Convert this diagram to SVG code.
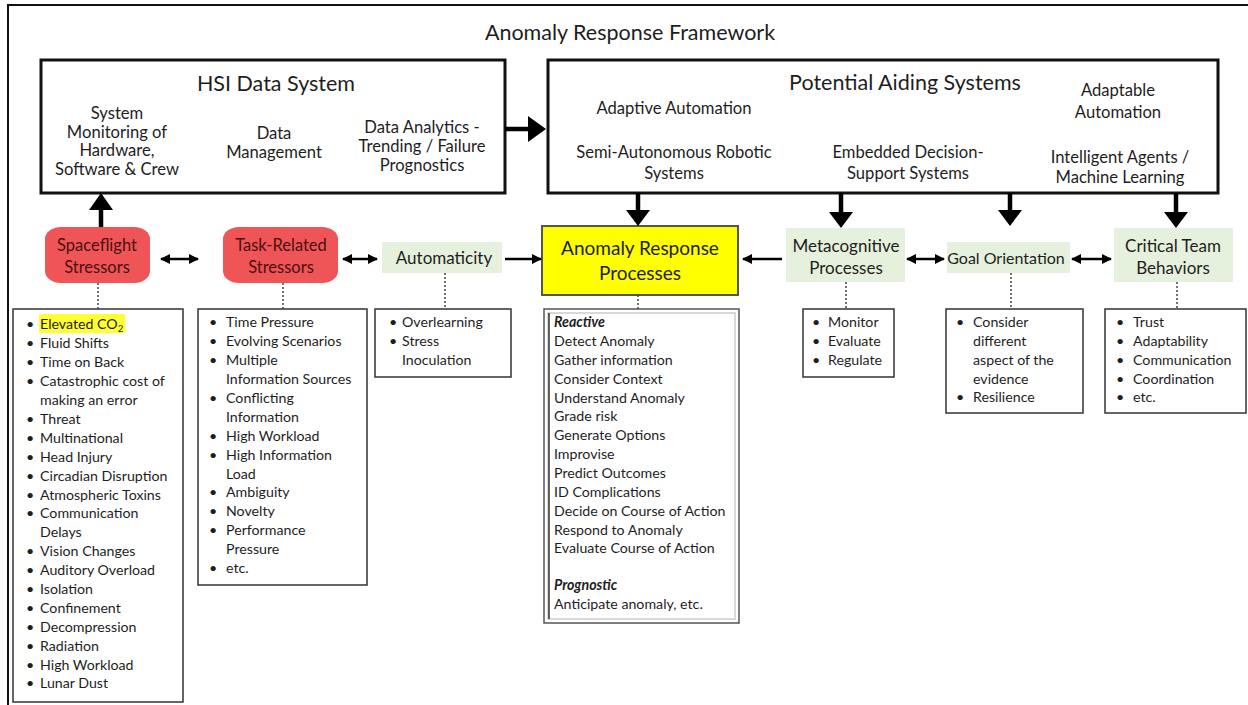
<svg xmlns="http://www.w3.org/2000/svg" width="1248" height="705" viewBox="0 0 1248 705">
<style>
text{font-family:Lato,"Open Sans","Liberation Sans",sans-serif;fill:#1e1e1e}
.t{font-size:16.6px;text-anchor:middle}
.n{font-size:17px;text-anchor:middle}
.ttl{font-size:21.5px;text-anchor:middle}
.li{font-size:14.2px}
.sysbox{fill:#fff;stroke:#111;stroke-width:3}
.red{fill:#ef5556}
.redt{fill:#4a1010;font-size:16.5px;text-anchor:middle}
.grn{fill:#e5f1dc}
.lst{fill:#fff;stroke:#333;stroke-width:1.5}
.dot{stroke:#444;stroke-width:1.5;stroke-dasharray:2 2;fill:none}
.thin{stroke:#000;stroke-width:2.5;fill:none}
.thick{stroke:#000;stroke-width:4.5;fill:none}
</style>
<defs>
<marker id="ah" viewBox="0 0 10 10" refX="9" refY="5" markerWidth="4" markerHeight="4" orient="auto-start-reverse" markerUnits="strokeWidth">
<path d="M0,0 L10,5 L0,10 z" fill="#000"/>
</marker>
</defs>
<rect width="1248" height="705" fill="#fff"/>
<rect x="8" y="5" width="1250" height="720" fill="none" stroke="#111" stroke-width="2"/>
<text x="630" y="40" class="ttl" style="font-size:21.5px">Anomaly Response Framework</text>

<g id="hsi">
<rect x="41" y="60" width="464" height="133" class="sysbox"/>
<text x="276" y="91" class="ttl">HSI Data System</text>
<text class="t" x="117" y="119">System</text>
<text class="t" x="117" y="138">Monitoring of</text>
<text class="t" x="117" y="156">Hardware,</text>
<text class="t" x="117" y="175">Software &amp; Crew</text>
<text class="t" x="274" y="139">Data</text>
<text class="t" x="274" y="158">Management</text>
<text class="t" x="422" y="133">Data Analytics -</text>
<text class="t" x="422" y="152">Trending / Failure</text>
<text class="t" x="422" y="171">Prognostics</text>
</g>

<g id="aiding">
<rect x="548" y="60" width="670" height="133" class="sysbox"/>
<text x="905" y="90" class="ttl">Potential Aiding Systems</text>
<text class="t" x="674" y="114">Adaptive Automation</text>
<text class="t" x="1118" y="96">Adaptable</text>
<text class="t" x="1118" y="118">Automation</text>
<text class="t" x="674" y="158">Semi-Autonomous Robotic</text>
<text class="t" x="674" y="179">Systems</text>
<text class="t" x="908" y="158">Embedded Decision-</text>
<text class="t" x="908" y="179">Support Systems</text>
<text class="t" x="1120" y="163">Intelligent Agents /</text>
<text class="t" x="1120" y="183">Machine Learning</text>
</g>

<g id="spaceflight">
<rect x="45" y="227" width="105" height="56" rx="16" ry="12" class="red"/>
<text class="redt" x="97" y="251">Spaceflight</text>
<text class="redt" x="97" y="273">Stressors</text>
</g>
<g id="taskrelated">
<rect x="223" y="227" width="115" height="56" rx="16" ry="12" class="red"/>
<text class="redt" x="281" y="251">Task-Related</text>
<text class="redt" x="281" y="273">Stressors</text>
</g>
<g id="automaticity">
<rect x="382" y="242" width="120" height="31" class="grn"/>
<text class="n" x="444" y="264">Automaticity</text>
</g>
<g id="arp">
<rect x="542" y="226" width="196" height="69" fill="#ffff00" stroke="#555" stroke-width="2"/>
<text class="n" x="640" y="255" style="font-size:19px">Anomaly Response</text>
<text class="n" x="640" y="280" style="font-size:19px">Processes</text>
</g>
<g id="metacognitive">
<rect x="786" y="228" width="119" height="54" class="grn"/>
<text class="n" x="846" y="252">Metacognitive</text>
<text class="n" x="846" y="274">Processes</text>
</g>
<g id="goal">
<rect x="947" y="242" width="123" height="31" class="grn"/>
<text class="n" x="1006" y="264" style="font-size:16px">Goal Orientation</text>
</g>
<g id="critical">
<rect x="1114" y="228" width="119" height="54" class="grn"/>
<text class="n" x="1173" y="252">Critical Team</text>
<text class="n" x="1173" y="274">Behaviors</text>
</g>

<g id="list-spaceflight">
<rect x="13" y="309" width="170" height="393" class="lst"/>
<rect x="39" y="314" width="86" height="19" fill="#ffff33"/>
<g class="li">
<text x="26" y="329">•</text><text x="40" y="329">Elevated CO<tspan font-size="9.5" dy="3">2</tspan></text>
<text x="26" y="348">•</text><text x="40" y="348">Fluid Shifts</text>
<text x="26" y="367">•</text><text x="40" y="367">Time on Back</text>
<text x="26" y="386">•</text><text x="40" y="386">Catastrophic cost of</text>
<text x="40" y="405">making an error</text>
<text x="26" y="424">•</text><text x="40" y="424">Threat</text>
<text x="26" y="443">•</text><text x="40" y="443">Multinational</text>
<text x="26" y="462">•</text><text x="40" y="462">Head Injury</text>
<text x="26" y="481">•</text><text x="40" y="481">Circadian Disruption</text>
<text x="26" y="500">•</text><text x="40" y="500">Atmospheric Toxins</text>
<text x="26" y="518">•</text><text x="40" y="518">Communication</text>
<text x="40" y="537">Delays</text>
<text x="26" y="556">•</text><text x="40" y="556">Vision Changes</text>
<text x="26" y="575">•</text><text x="40" y="575">Auditory Overload</text>
<text x="26" y="594">•</text><text x="40" y="594">Isolation</text>
<text x="26" y="613">•</text><text x="40" y="613">Confinement</text>
<text x="26" y="632">•</text><text x="40" y="632">Decompression</text>
<text x="26" y="651">•</text><text x="40" y="651">Radiation</text>
<text x="26" y="670">•</text><text x="40" y="670">High Workload</text>
<text x="26" y="688">•</text><text x="40" y="688">Lunar Dust</text>
</g>
</g>

<g id="list-task">
<rect x="198" y="309" width="169" height="276" class="lst"/>
<g class="li">
<text x="209" y="327">•</text><text x="226" y="327">Time Pressure</text>
<text x="209" y="346">•</text><text x="226" y="346">Evolving Scenarios</text>
<text x="209" y="365">•</text><text x="226" y="365">Multiple</text>
<text x="226" y="384">Information Sources</text>
<text x="209" y="403">•</text><text x="226" y="403">Conflicting</text>
<text x="226" y="422">Information</text>
<text x="209" y="441">•</text><text x="226" y="441">High Workload</text>
<text x="209" y="460">•</text><text x="226" y="460">High Information</text>
<text x="226" y="479">Load</text>
<text x="209" y="497">•</text><text x="226" y="497">Ambiguity</text>
<text x="209" y="516">•</text><text x="226" y="516">Novelty</text>
<text x="209" y="535">•</text><text x="226" y="535">Performance</text>
<text x="226" y="554">Pressure</text>
<text x="209" y="573">•</text><text x="226" y="573">etc.</text>
</g>
</g>

<g id="list-automaticity">
<rect x="375" y="309" width="136" height="68" class="lst"/>
<g class="li">
<text x="389" y="327">•</text><text x="402" y="327">Overlearning</text>
<text x="389" y="346">•</text><text x="402" y="346">Stress</text>
<text x="402" y="365">Inoculation</text>
</g>
</g>

<g id="list-arp">
<rect x="544" y="309" width="195" height="314" fill="#fff" stroke="#555" stroke-width="1.5"/>
<rect x="548" y="313" width="187" height="306" fill="none" stroke="#ccc" stroke-width="1.5"/>
<line x1="549" y1="313" x2="549" y2="619" stroke="#333" stroke-width="1.5"/>
<g class="li">
<text x="554" y="327" font-weight="bold" font-style="italic">Reactive</text>
<text x="554" y="346">Detect Anomaly</text>
<text x="554" y="365">Gather information</text>
<text x="554" y="384">Consider Context</text>
<text x="554" y="403">Understand Anomaly</text>
<text x="554" y="421">Grade risk</text>
<text x="554" y="440">Generate Options</text>
<text x="554" y="459">Improvise</text>
<text x="554" y="478">Predict Outcomes</text>
<text x="554" y="497">ID Complications</text>
<text x="554" y="516">Decide on Course of Action</text>
<text x="554" y="535">Respond to Anomaly</text>
<text x="554" y="553">Evaluate Course of Action</text>
<text x="554" y="590" font-weight="bold" font-style="italic">Prognostic</text>
<text x="554" y="609">Anticipate anomaly, etc.</text>
</g>
</g>

<g id="list-meta">
<rect x="803" y="309" width="91" height="68" class="lst"/>
<g class="li">
<text x="812" y="327">•</text><text x="828" y="327">Monitor</text>
<text x="812" y="346">•</text><text x="828" y="346">Evaluate</text>
<text x="812" y="365">•</text><text x="828" y="365">Regulate</text>
</g>
</g>

<g id="list-goal">
<rect x="946" y="309" width="137" height="104" class="lst"/>
<g class="li">
<text x="956" y="327">•</text><text x="973" y="327">Consider</text>
<text x="973" y="346">different</text>
<text x="973" y="365">aspect of the</text>
<text x="973" y="384">evidence</text>
<text x="956" y="402">•</text><text x="973" y="402">Resilience</text>
</g>
</g>

<g id="list-critical">
<rect x="1105" y="309" width="141" height="104" class="lst"/>
<g class="li">
<text x="1116" y="327">•</text><text x="1133" y="327">Trust</text>
<text x="1116" y="346">•</text><text x="1133" y="346">Adaptability</text>
<text x="1116" y="365">•</text><text x="1133" y="365">Communication</text>
<text x="1116" y="384">•</text><text x="1133" y="384">Coordination</text>
<text x="1116" y="402">•</text><text x="1133" y="402">etc.</text>
</g>
</g>

<g id="connectors">
<line x1="505" y1="129" x2="530" y2="129" class="thick"/>
<polygon points="528,116 546,129 528,142" fill="#000"/>
<line x1="101" y1="227" x2="101" y2="208" class="thick"/>
<polygon points="89,210 101,193 113,210" fill="#000"/>
<line x1="638" y1="193" x2="638" y2="212" class="thick"/>
<polygon points="626,210 638,226 650,210" fill="#000"/>
<line x1="841" y1="193" x2="841" y2="214" class="thick"/>
<polygon points="829,212 841,228 853,212" fill="#000"/>
<line x1="1010" y1="193" x2="1010" y2="212" class="thick"/>
<polygon points="998,210 1010,226 1022,210" fill="#000"/>
<line x1="1176" y1="193" x2="1176" y2="214" class="thick"/>
<polygon points="1164,212 1176,228 1188,212" fill="#000"/>
<line x1="161" y1="259" x2="198" y2="259" class="thin" marker-start="url(#ah)" marker-end="url(#ah)"/>
<line x1="343" y1="259" x2="377" y2="259" class="thin" marker-start="url(#ah)" marker-end="url(#ah)"/>
<line x1="505" y1="259" x2="541" y2="259" class="thin" marker-end="url(#ah)"/>
<line x1="782" y1="259" x2="743" y2="259" class="thin" marker-end="url(#ah)"/>
<line x1="907" y1="259" x2="944" y2="259" class="thin" marker-start="url(#ah)" marker-end="url(#ah)"/>
<line x1="1072" y1="259" x2="1111" y2="259" class="thin" marker-start="url(#ah)" marker-end="url(#ah)"/>
<line x1="98" y1="283" x2="98" y2="309" class="dot"/>
<line x1="283" y1="283" x2="283" y2="309" class="dot"/>
<line x1="445" y1="273" x2="445" y2="309" class="dot"/>
<line x1="638" y1="295" x2="638" y2="309" class="dot"/>
<line x1="846" y1="282" x2="846" y2="309" class="dot"/>
<line x1="1011" y1="273" x2="1011" y2="309" class="dot"/>
<line x1="1177" y1="282" x2="1177" y2="309" class="dot"/>
</g>
</svg>
